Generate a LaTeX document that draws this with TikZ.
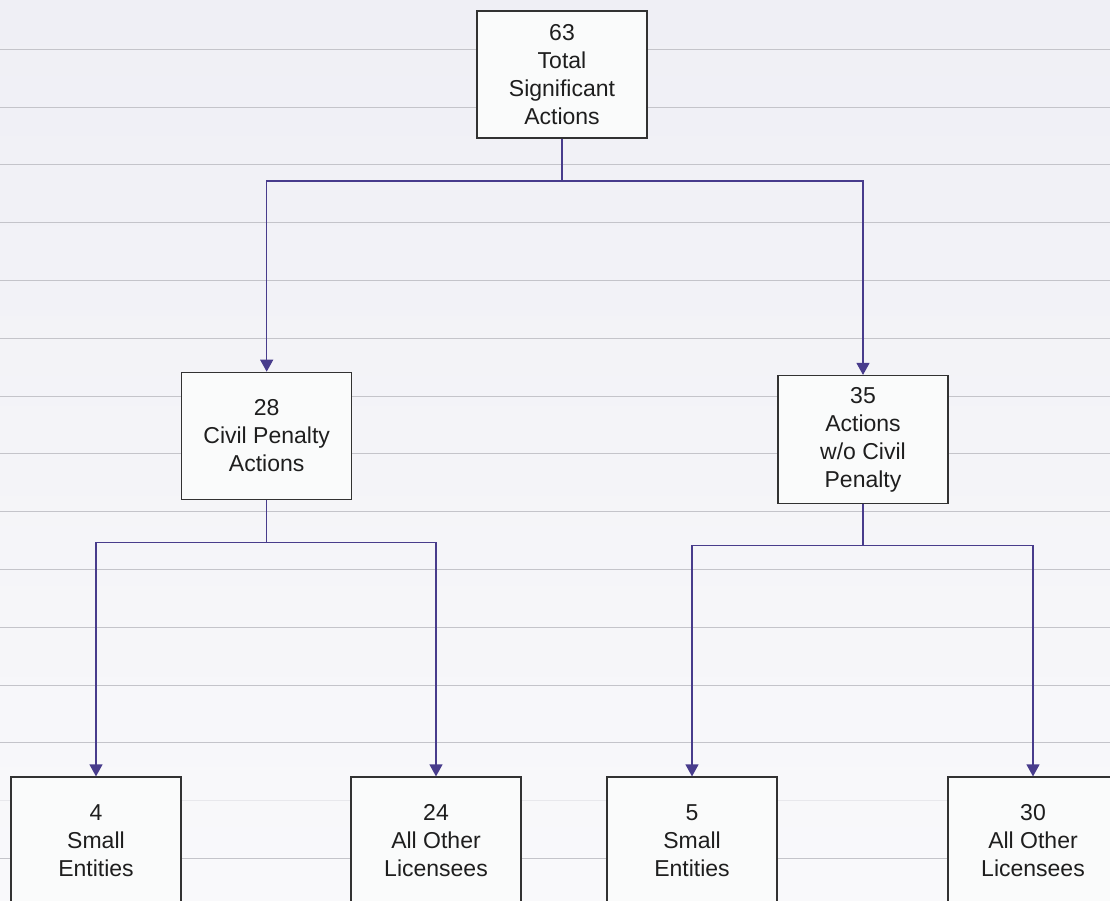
\documentclass[tikz,border=0pt]{standalone}
\usepackage{fontspec}
\setmainfont{Liberation Sans}
\usetikzlibrary{arrows.meta}
\definecolor{conn}{RGB}{72,60,140}
\definecolor{grid}{RGB}{196,196,202}
\definecolor{boxfill}{RGB}{250,251,251}
\definecolor{boxline}{RGB}{50,50,50}
\definecolor{txt}{RGB}{30,30,30}
\begin{document}
\begin{tikzpicture}[x=1pt,y=-1pt,
  databox/.style={draw=boxline,line width=1.2pt,fill=boxfill,minimum width=170pt,minimum height=127pt,
    inner sep=0pt,align=center,text=txt,font=\fontsize{23}{28}\selectfont},
  link/.style={draw=conn,line width=1.2pt},
  arr/.style={link,-{Triangle[width=13pt,length=12pt]}},
  gridline/.style={draw=grid,line width=1pt}]
\useasboundingbox (0,0) rectangle (1110,901);
\clip (0,0) rectangle (1110,901);
\shade[top color={rgb,255:red,239;green,239;blue,245},bottom color={rgb,255:red,249;green,249;blue,251}] (0,0) rectangle (1110,901);
\foreach \k in {0,...,12}{
  \draw[gridline] (0,{49.3+57.8*\k}) -- (1110,{49.3+57.8*\k});
}
\draw[gridline,draw={rgb,255:red,232;green,232;blue,236}] (0,800.3) -- (1110,800.3);
\draw[gridline] (0,858) -- (1110,858);

\node[databox] (top) at (562,74.5) {63\\Total\\Significant\\Actions};
\node[databox] (cp) at (266.7,435.8) {28\\Civil Penalty\\Actions};
\node[databox,minimum height=128pt] (ncp) at (863,439.5) {35\\Actions\\w/o Civil\\Penalty};
\node[databox] (se1) at (96,840.5) {4\\Small\\Entities};
\node[databox] (ol1) at (436,840.5) {24\\All Other\\Licensees};
\node[databox] (se2) at (692,840.5) {5\\Small\\Entities};
\node[databox] (ol2) at (1033,840.5) {30\\All Other\\Licensees};

\coordinate (j0) at (562,181);
\coordinate (j1) at (266.7,542.3);
\coordinate (j2) at (863,545.7);

\draw[link] (top.south) -- (j0);
\draw[arr] (j0) -| (cp.north);
\draw[arr] (j0) -| (ncp.north);
\draw[link] (cp.south) -- (j1);
\draw[arr] (j1) -| (se1.north);
\draw[arr] (j1) -| (ol1.north);
\draw[link] (ncp.south) -- (j2);
\draw[arr] (j2) -| (se2.north);
\draw[arr] (j2) -| (ol2.north);
\end{tikzpicture}
\end{document}
